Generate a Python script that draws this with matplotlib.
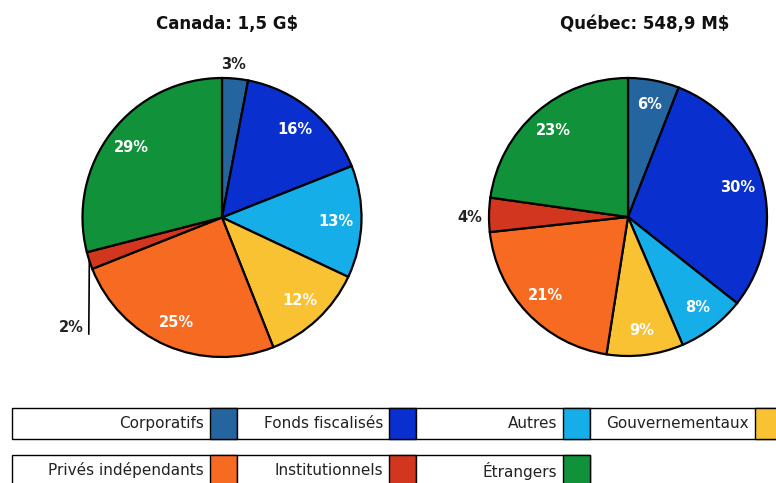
import matplotlib
matplotlib.use("Agg")
import matplotlib.pyplot as plt
import numpy as np
from matplotlib.patches import Rectangle
from matplotlib.lines import Line2D

W, H = 776, 483

categories = ["Corporatifs", "Fonds fiscalisés", "Autres", "Gouvernementaux",
              "Privés indépendants", "Institutionnels", "Étrangers"]
colors = ["#24649f", "#0a2fcf", "#16aee8", "#f8c232", "#f76a22", "#d2361e", "#119139"]
canada_values = [3, 16, 13, 12, 25, 2, 29]
quebec_values = [6, 30, 8, 9, 21, 4, 23]
titles = ["Canada: 1,5 G$", "Québec: 548,9 M$"]

fig = plt.figure(figsize=(W / 100, H / 100), dpi=100)
fig.patch.set_facecolor("white")


def pie_axes(cx, cy, r):
    return fig.add_axes([(cx - r) / W, 1 - (cy + r) / H, 2 * r / W, 2 * r / H])


def draw_pie(ax, values, outside):
    ax.pie(values, colors=colors, startangle=90, counterclock=False,
           radius=1, wedgeprops=dict(edgecolor="black", linewidth=1.6))
    total = sum(values)
    cum = 0
    for i, v in enumerate(values):
        mid = (cum + v / 2) / total * 360
        cum += v
        if i in outside:
            continue
        ang = np.deg2rad(90 - mid)
        ax.text(0.82 * np.cos(ang), 0.82 * np.sin(ang), f"{v}%", ha="center",
                va="center", color="white", fontsize=10.5, fontweight="bold")
    ax.set_xlim(-1, 1)
    ax.set_ylim(-1, 1)
    ax.set_aspect("equal")
    ax.axis("off")


# Canada pie
ax1 = pie_axes(222, 217.5, 139.5)
draw_pie(ax1, canada_values, outside={0, 5})
ax1.text(0.08, 1.10, f"{canada_values[0]}%", ha="center", va="center",
         fontsize=10.5, fontweight="bold", color="#222222", clip_on=False)
ax1.add_line(Line2D([-0.951, -0.955], [-0.309, -0.835], color="black",
                    linewidth=1.2, clip_on=False))
ax1.text(-0.99, -0.79, f"{canada_values[5]}%", ha="right", va="center",
         fontsize=10.5, fontweight="bold", color="#222222", clip_on=False)

# Québec pie
ax2 = pie_axes(628, 217, 139)
draw_pie(ax2, quebec_values, outside={5})
ax2.text(-1.05, 0.0, f"{quebec_values[5]}%", ha="right", va="center",
         fontsize=10.5, fontweight="bold", color="#222222", clip_on=False)

# Titles
fig.text(227 / W, 1 - 24 / H, titles[0], ha="center", va="center",
         fontsize=12, fontweight="bold", color="#111111")
fig.text(645 / W, 1 - 24 / H, titles[1], ha="center", va="center",
         fontsize=12, fontweight="bold", color="#111111")

# Legend cells
cells_x = [(12, 237), (237, 416), (416, 590), (590, 782)]
rows_y = [(408, 439), (455, 492)]
sw = 27
for idx, (name, col) in enumerate(zip(categories, colors)):
    row, c = divmod(idx, 4)
    x0, x1 = cells_x[c]
    y0, y1 = rows_y[row]
    fig.patches.append(Rectangle((x0 / W, 1 - y1 / H), (x1 - x0) / W, (y1 - y0) / H,
                                 transform=fig.transFigure, facecolor="white",
                                 edgecolor="black", linewidth=1.0))
    fig.patches.append(Rectangle(((x1 - sw) / W, 1 - y1 / H), sw / W, (y1 - y0) / H,
                                 transform=fig.transFigure, facecolor=col,
                                 edgecolor="black", linewidth=1.0))
    ty = y0 + 15.5
    fig.text((x1 - sw - 6) / W, 1 - ty / H, name, ha="right", va="center",
             fontsize=11, color="#222222")

fig.savefig("out.png", dpi=100)
